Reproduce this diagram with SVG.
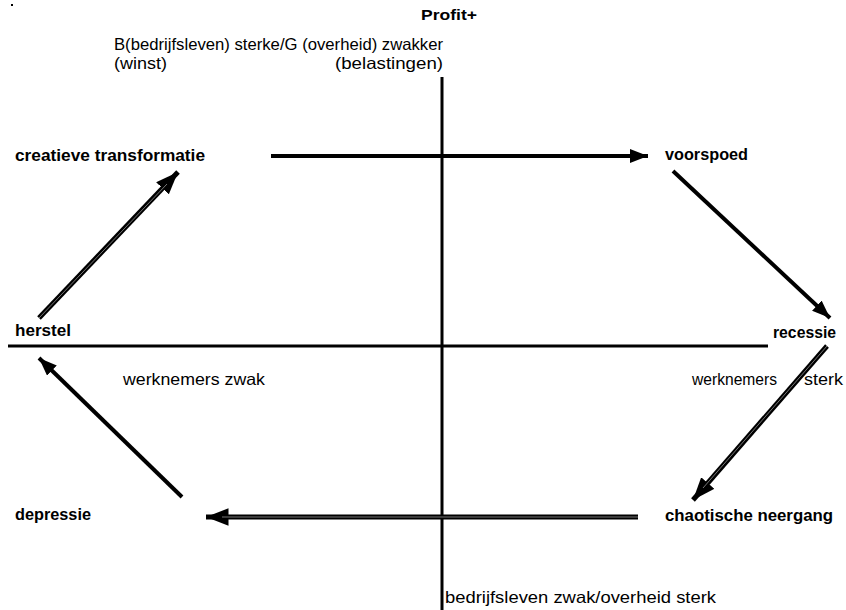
<svg xmlns="http://www.w3.org/2000/svg" width="846" height="610" viewBox="0 0 846 610">
<style>
text{font-family:"Liberation Sans","DejaVu Sans",sans-serif;font-size:16.5px;fill:#000}
.b{font-weight:bold;font-size:16px}
.ax{stroke:#000;stroke-width:3;fill:none}
.ar{stroke:#000;stroke-width:4;fill:none}
.dl{stroke:#000;stroke-width:5;fill:none}
.in{stroke:#777;stroke-width:1;fill:none}
</style>
<defs>
<marker id="ah" viewBox="0 0 10 10" refX="10" refY="5" markerWidth="4.5" markerHeight="3.5" orient="auto" markerUnits="strokeWidth" preserveAspectRatio="none">
<path d="M0,0 L10,5 L0,10 Z" fill="#000"/>
</marker>
</defs>
<rect x="11" y="4" width="2" height="2" fill="#000"/>
<g id="axes">
<line class="ax" x1="442" y1="77" x2="442" y2="610"/>
<line class="ax" x1="8" y1="346" x2="768" y2="346"/>
</g>
<g id="connectors">
<line class="ar" x1="271" y1="156" x2="648" y2="156" marker-end="url(#ah)"/>
<line class="ar" x1="673" y1="171" x2="830" y2="318" marker-end="url(#ah)"/>
<line class="dl" x1="827" y1="346" x2="693" y2="500" marker-end="url(#ah)"/>
<line class="in" x1="827" y1="346" x2="703" y2="488"/>
<line class="dl" x1="638" y1="517" x2="206" y2="517" marker-end="url(#ah)"/>
<line class="in" x1="638" y1="517" x2="222" y2="517"/>
<line class="ar" x1="182" y1="497" x2="39" y2="358" marker-end="url(#ah)"/>
<line class="dl" x1="39" y1="318" x2="178" y2="172" marker-end="url(#ah)"/>
<line class="in" x1="39" y1="318" x2="167" y2="184"/>
</g>
<g id="labels" lengthAdjust="spacingAndGlyphs">
<text class="b" x="421" y="20" textLength="56" lengthAdjust="spacingAndGlyphs" style="font-size:14px">Profit+</text>
<text x="114" y="50" textLength="329" lengthAdjust="spacingAndGlyphs">B(bedrijfsleven) sterke/G (overheid) zwakker</text>
<text x="114" y="69" textLength="53" lengthAdjust="spacingAndGlyphs">(winst)</text>
<text x="335" y="69" textLength="108" lengthAdjust="spacingAndGlyphs">(belastingen)</text>
<text x="123" y="385" textLength="142" lengthAdjust="spacingAndGlyphs">werknemers zwak</text>
<text x="692" y="385" textLength="85" lengthAdjust="spacingAndGlyphs">werknemers</text>
<text x="804" y="385" textLength="39" lengthAdjust="spacingAndGlyphs">sterk</text>
<text x="445" y="603" textLength="271" lengthAdjust="spacingAndGlyphs">bedrijfsleven zwak/overheid sterk</text>
</g>
<g id="creatieve"><text class="b" x="15" y="161" textLength="190" lengthAdjust="spacingAndGlyphs">creatieve transformatie</text></g>
<g id="voorspoed"><text class="b" x="665" y="160" textLength="83" lengthAdjust="spacingAndGlyphs">voorspoed</text></g>
<g id="herstel"><text class="b" x="15" y="336" textLength="56" lengthAdjust="spacingAndGlyphs">herstel</text></g>
<g id="recessie"><text class="b" x="773" y="338" textLength="63" lengthAdjust="spacingAndGlyphs">recessie</text></g>
<g id="depressie"><text class="b" x="15" y="520" textLength="76" lengthAdjust="spacingAndGlyphs">depressie</text></g>
<g id="chaotische"><text class="b" x="665" y="521" textLength="168" lengthAdjust="spacingAndGlyphs">chaotische neergang</text></g>
</svg>
